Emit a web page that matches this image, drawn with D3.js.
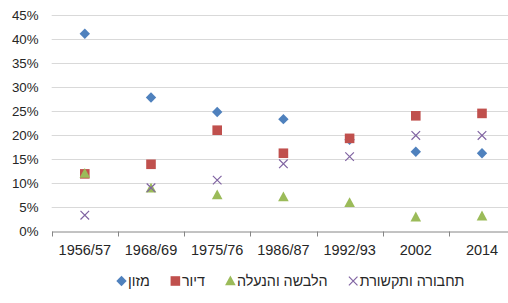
<!DOCTYPE html>
<html>
<head>
<meta charset="utf-8">
<script src="https://cdn.jsdelivr.net/npm/d3@7/dist/d3.min.js"></script>
<style>
  body { margin: 0; background: #fff; }
  svg { display: block; font-family: "Liberation Sans", Arial, sans-serif; }
</style>
</head>
<body>
<div id="chart"></div>
<script>
const years = ["1956/57", "1968/69", "1975/76", "1986/87", "1992/93", "2002", "2014"];
const food = [41.1, 27.8, 24.8, 23.3, 19.0, 16.5, 16.2];
const housing = [11.9, 13.9, 21.0, 16.2, 19.3, 24.0, 24.5];
const clothing = [12.0, 8.9, 7.5, 7.1, 5.9, 2.9, 3.1];
const transport = [3.3, 9.0, 10.6, 14.0, 15.5, 19.9, 19.9];
const seriesNames = ["מזון", "דיור", "הלבשה והנעלה", "תחבורה ותקשורת"];
const yTicks = [0, 5, 10, 15, 20, 25, 30, 35, 40, 45];

const series = [
    { name: seriesNames[0], values: food, color: "#4F81BD", shape: "diamond" },
    { name: seriesNames[1], values: housing, color: "#C0504D", shape: "square" },
    { name: seriesNames[2], values: clothing, color: "#9BBB59", shape: "triangle" },
    { name: seriesNames[3], values: transport, color: "#8064A2", shape: "cross" }
];

const width = 508, height = 303;
const svg = d3.select("#chart").append("svg")
    .attr("width", width)
    .attr("height", height);

const x = d3.scaleBand().domain(years).range([51.7, 515.1]);
const y = d3.scaleLinear().domain([0, 45]).range([231, 15]);

// gridlines
svg.append("g")
    .selectAll("line")
    .data(yTicks.filter(d => d > 0))
    .enter()
    .append("line")
    .attr("x1", 51.7)
    .attr("x2", 515)
    .attr("y1", d => Math.round(y(d)) + 0.5)
    .attr("y2", d => Math.round(y(d)) + 0.5)
    .attr("stroke", "#d9d9d9")
    .attr("stroke-width", 1);

// y labels
svg.append("g")
    .selectAll("text")
    .data(yTicks)
    .enter()
    .append("text")
    .attr("x", 38.5)
    .attr("y", d => y(d))
    .attr("dy", "0.36em")
    .attr("text-anchor", "end")
    .attr("fill", "#262626")
    .style("font-size", "13.3px")
    .text(d => d + "%");

// x axis
const xAxis = svg.append("g")
    .attr("transform", "translate(0," + (Math.round(y(0)) + 0.5) + ")")
    .call(d3.axisBottom(x).tickSize(0).tickSizeOuter(0).tickPadding(0));
xAxis.select(".domain").attr("stroke", "#868686");
xAxis.selectAll(".tick text")
    .attr("y", 18)
    .attr("dy", "0.36em")
    .attr("fill", "#262626")
    .style("font-size", "14.5px")
    .style("font-family", "'Liberation Sans', Arial, sans-serif");
xAxis.selectAll(".tick line").remove();

const boundaries = years.map(d => x(d)).concat([x.range()[1]]);
xAxis.selectAll(".boundary")
    .data(boundaries)
    .enter()
    .append("line")
    .attr("class", "boundary")
    .attr("x1", d => Math.round(d) + 0.5)
    .attr("x2", d => Math.round(d) + 0.5)
    .attr("y1", 0)
    .attr("y2", 5)
    .attr("stroke", "#868686");

function markerPath(shape) {
    if (shape === "diamond") return "M0,-5.2L5.2,0L0,5.2L-5.2,0Z";
    if (shape === "square") return "M-4.8,-4.8H4.8V4.8H-4.8Z";
    if (shape === "triangle") return "M0,-5.5L5.3,4.3H-5.3Z";
    return "M-4.3,-4.3L4.3,4.3M4.3,-4.3L-4.3,4.3";
}

function drawMarker(g, shape, color) {
    const p = g.append("path").attr("d", markerPath(shape));
    if (shape === "cross") {
        p.attr("fill", "none").attr("stroke", color).attr("stroke-width", 1.2);
    } else {
        p.attr("fill", color);
    }
}

// points
series.forEach(s => {
    const g = svg.append("g");
    s.values.forEach((v, i) => {
        const m = g.append("g")
            .attr("transform", "translate(" + (x(years[i]) + x.bandwidth() / 2) + "," + y(v) + ")");
        drawMarker(m, s.shape, s.color);
    });
});

// legend
const legend = svg.append("g");
let lx = 117;
const ly = 281;
series.forEach(s => {
    const m = legend.append("g").attr("transform", "translate(" + (lx + 4.5) + "," + ly + ")");
    drawMarker(m, s.shape, s.color);
    const t = legend.append("text")
        .attr("x", lx + 11)
        .attr("y", ly)
        .attr("dy", "0.36em")
        .attr("fill", "#262626")
        .style("font-size", "14.3px")
        .text(s.name);
    const w = t.node().getComputedTextLength();
    lx = lx + 11 + w + 21;
});
</script>
</body>
</html>
